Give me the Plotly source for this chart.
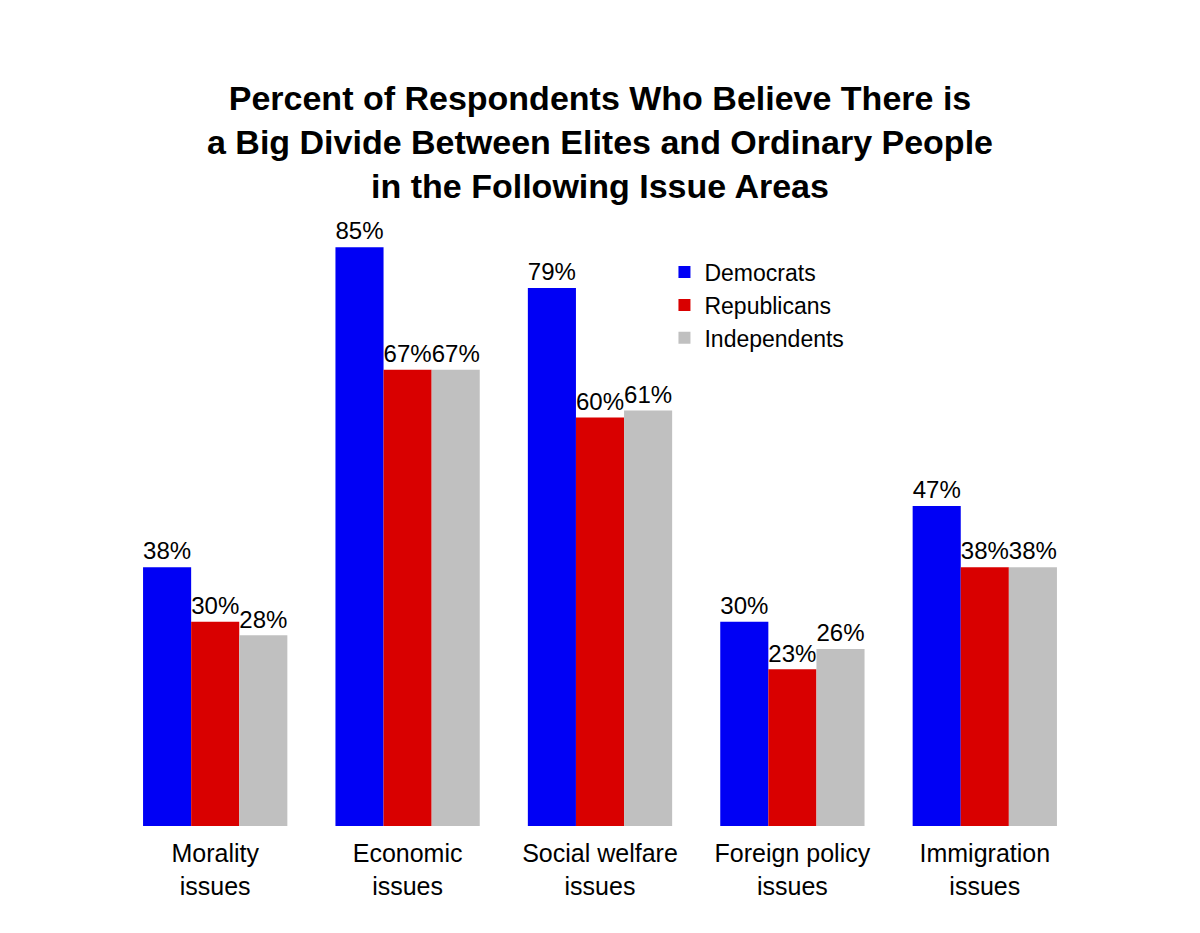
import plotly.graph_objects as go

categories = ["Morality<br>issues", "Economic<br>issues", "Social welfare<br>issues",
              "Foreign policy<br>issues", "Immigration<br>issues"]
democrats = [38, 85, 79, 30, 47]
republicans = [30, 67, 60, 23, 38]
independents = [28, 67, 61, 26, 38]

series = [("Democrats", democrats, "#0000f5"),
          ("Republicans", republicans, "#d90000"),
          ("Independents", independents, "#c0c0c0")]

FONT = "Liberation Sans, Arial, sans-serif"

fig = go.Figure()
for name, vals, color in series:
    fig.add_trace(go.Bar(
        x=categories, y=vals, name=name,
        marker=dict(color=color, line=dict(width=0)),
        text=[f"{v}%" for v in vals], textposition="outside",
        textfont=dict(size=25, color="black", family=FONT),
        cliponaxis=False,
    ))

fig.update_layout(
    width=1200, height=933,
    paper_bgcolor="white", plot_bgcolor="white",
    barmode="group", bargap=0.25, bargroupgap=0,
    margin=dict(l=119, r=119, t=145, b=107),
    font=dict(family=FONT, color="black", size=24),
    title=dict(
        text="<b>Percent of Respondents Who Believe There is<br>a Big Divide Between Elites and Ordinary People<br>in the Following Issue Areas</b>",
        x=0.5, xanchor="center", y=0.882, yanchor="middle",
        font=dict(size=34, color="black", family=FONT),
    ),
    xaxis=dict(showgrid=False, showline=False, ticks="", tickfont=dict(size=25),
               ticklabelstandoff=10),
    yaxis=dict(range=[0, 100], visible=False),
    legend=dict(x=0.567, y=0.845, xanchor="left", yanchor="top",
                font=dict(size=23), bgcolor="rgba(0,0,0,0)", tracegroupgap=0,
                itemwidth=30),
    showlegend=True,
)

fig.write_html("out.html")
